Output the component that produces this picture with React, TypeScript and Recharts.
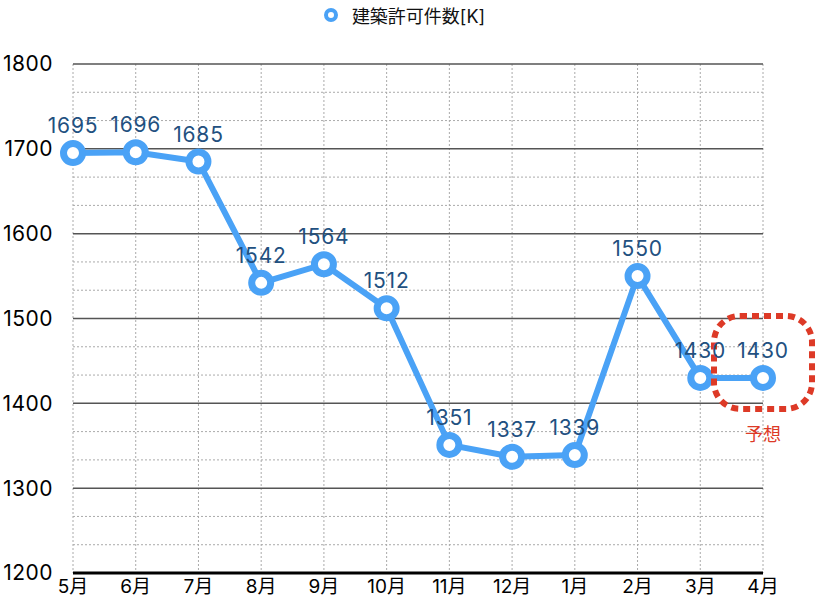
import React from 'react'
import {
  LineChart,
  Line,
  XAxis,
  YAxis,
  CartesianGrid,
  LabelList,
  ReferenceDot,
} from 'recharts'

const months = ['5月', '6月', '7月', '8月', '9月', '10月', '11月', '12月', '1月', '2月', '3月', '4月']
const permits = [1695, 1696, 1685, 1542, 1564, 1512, 1351, 1337, 1339, 1550, 1430, 1430]
const yTicks = [1200, 1300, 1400, 1500, 1600, 1700, 1800]
const minorTicks = [1233.33, 1266.67, 1333.33, 1366.67, 1433.33, 1466.67, 1533.33, 1566.67, 1633.33, 1666.67, 1733.33, 1766.67]
const seriesName = '建築許可件数[K]'
const forecastMonth = '4月'
const forecastLabel = '予想'

const FONT = 'Inter, "Noto Sans CJK JP", sans-serif'
const BLUE = '#4AA2F6'
const RED = '#DD3A27'

const data = months.map((m, i) => ({ month: m, value: permits[i] }))

const ForecastBox = (props: any) => {
  const { cx, cy } = props
  if (cx == null || cy == null) return null
  return (
    <g>
      <rect
        x={cx - 49}
        y={cy - 62}
        width={98}
        height={93}
        rx={26}
        ry={26}
        fill="none"
        stroke={RED}
        strokeWidth={6}
        strokeDasharray="7 5"
      />
      <text x={cx} y={cy + 63} textAnchor="middle" fill={RED} fontSize={18} fontFamily={FONT}>
        {forecastLabel}
      </text>
    </g>
  )
}

export default function App() {
  return (
    <div style={{ position: 'absolute', left: 0, top: 0, width: 816, height: 600, background: '#fff', fontFamily: FONT }}>
      <div
        style={{
          position: 'absolute',
          top: 2,
          left: 0,
          width: 816,
          display: 'flex',
          justifyContent: 'center',
          alignItems: 'center',
          fontSize: 18,
          color: '#111',
        }}
      >
        <svg width={16} height={16} style={{ marginRight: 13, marginLeft: -8 }}>
          <circle cx={8} cy={8} r={5} fill="#fff" stroke={BLUE} strokeWidth={4} />
        </svg>
        <span>{seriesName}</span>
      </div>
      <LineChart width={816} height={600} data={data} margin={{ top: 64, right: 53, bottom: 0, left: 0 }}>
        <CartesianGrid
          stroke="#aaa"
          strokeDasharray="2 2"
          horizontalValues={minorTicks}
          vertical={true}
        />
        <CartesianGrid stroke="#555" strokeWidth={1.5} vertical={false} horizontalValues={yTicks.slice(1)} />
        <XAxis
          dataKey="month"
          interval={0}
          axisLine={{ stroke: '#000', strokeWidth: 3 }}
          tickLine={false}
          tickSize={0}
          tickMargin={7}
          height={27}
          tick={{ fill: '#000', fontSize: 19, fontFamily: FONT }}
        />
        <YAxis
          domain={[1200, 1800]}
          ticks={yTicks}
          interval={0}
          axisLine={false}
          tickLine={false}
          tickSize={0}
          tickMargin={20}
          width={73}
          tick={{ fill: '#000', fontSize: 21, fontFamily: FONT, letterSpacing: 0.5 }}
        />
        <Line
          type="linear"
          dataKey="value"
          name={seriesName}
          stroke={BLUE}
          strokeWidth={6}
          dot={{ r: 9.5, fill: '#fff', stroke: BLUE, strokeWidth: 7 }}
          activeDot={false}
          isAnimationActive={false}
        >
          <LabelList
            dataKey="value"
            position="top"
            offset={20}
            fill="#22507F"
            fontSize={21}
            letterSpacing={0.8}
            fontFamily={FONT}
          />
        </Line>
        <ReferenceDot x={forecastMonth} y={permits[permits.length - 1]} ifOverflow="visible" shape={ForecastBox} />
      </LineChart>
    </div>
  )
}
